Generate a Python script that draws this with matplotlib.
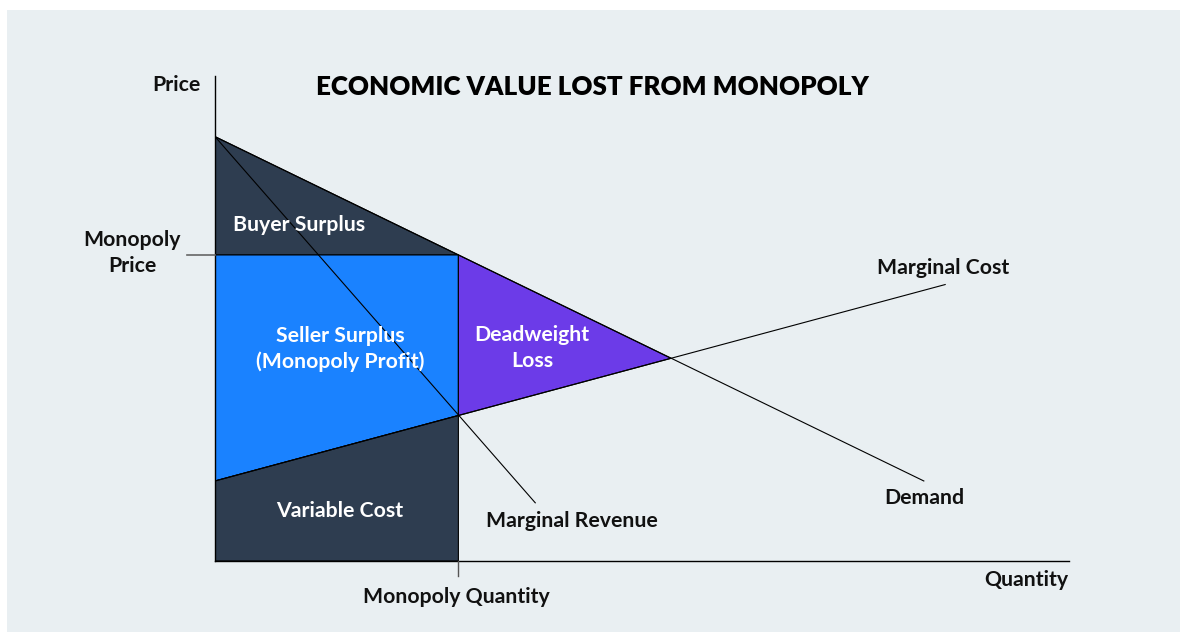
import matplotlib.pyplot as plt
from matplotlib.patches import Polygon, Rectangle

plt.rcParams['font.family'] = ['Lato', 'DejaVu Sans']

# values (quantity 0-100, price 0-100)
demand_q = [0, 83]
demand_p = [87.5, 16.5]
mr_q = [0, 37.5]
mr_p = [87.5, 12]
mc_q = [0, 85.5]
mc_p = [16.5, 57]

monopoly_q = 28.5
monopoly_p = 63.1
mc_at_qm = 30.0
eq_q = 53.4
eq_p = 41.8

panel_color = '#e9eff2'
navy = '#2e3d50'
blue = '#1a82ff'
purple = '#6c3be8'

fig = plt.figure(figsize=(11.8, 6.32), dpi=100)
fig.patch.set_facecolor('white')
fig.patches.append(Rectangle((7 / 1180, 0), 1, 1 - 10 / 632, transform=fig.transFigure,
                             facecolor=panel_color, edgecolor='none', zorder=-1))

ax = fig.add_axes([215 / 1180, 71 / 632, 854 / 1180, 485 / 632])
ax.set_facecolor('none')
ax.set_xlim(0, 100)
ax.set_ylim(0, 100)
for side in ['top', 'right']:
    ax.spines[side].set_visible(False)
for side in ['left', 'bottom']:
    ax.spines[side].set_linewidth(1.0)
    ax.spines[side].set_color('black')
ax.set_xticks([])
ax.set_yticks([])

# shaded areas
areas = [
    ([(0, demand_p[0]), (monopoly_q, monopoly_p), (0, monopoly_p)], navy),
    ([(0, monopoly_p), (monopoly_q, monopoly_p), (monopoly_q, mc_at_qm), (0, mc_p[0])], blue),
    ([(monopoly_q, monopoly_p), (eq_q, eq_p), (monopoly_q, mc_at_qm)], purple),
    ([(0, mc_p[0]), (monopoly_q, mc_at_qm), (monopoly_q, 0), (0, 0)], navy),
]
for pts, col in areas:
    ax.add_patch(Polygon(pts, closed=True, facecolor=col, edgecolor='black', linewidth=0.8, zorder=1))

# curves
ax.plot(demand_q, demand_p, color='black', lw=0.8, zorder=3)
ax.plot(mr_q, mr_p, color='black', lw=0.8, zorder=3)
ax.plot(mc_q, mc_p, color='black', lw=0.8, zorder=3)

# ticks for monopoly price and quantity
ax.plot([-3.3, 0], [monopoly_p, monopoly_p], color='#666666', lw=1.2, clip_on=False, zorder=3)
ax.plot([monopoly_q, monopoly_q], [0, -3.1], color='#555555', lw=1.0, clip_on=False, zorder=3)

fs = 15.3
lab = dict(fontsize=fs, fontweight='bold', color='#111111')
wlab = dict(fontsize=fs, fontweight='bold', color='white', ha='center', va='center',
            multialignment='center', zorder=4, linespacing=1.38)

fig.text(592 / 1180, 1 - 87 / 632, 'ECONOMIC VALUE LOST FROM MONOPOLY', ha='center', va='center',
         fontsize=18.7, fontweight='heavy', color='black')
fig.text(200 / 1180, 1 - 85 / 632, 'Price', ha='right', va='center', **lab)
fig.text(132 / 1180, 1 - 253 / 632, 'Monopoly\nPrice', ha='center', va='center',
         multialignment='center', linespacing=1.4, **lab)
fig.text(456 / 1180, 1 - 597 / 632, 'Monopoly Quantity', ha='center', va='center', **lab)
fig.text(1068 / 1180, 1 - 580 / 632, 'Quantity', ha='right', va='center', **lab)
fig.text(943 / 1180, 1 - 268 / 632, 'Marginal Cost', ha='center', va='center', **lab)
fig.text(924 / 1180, 1 - 498 / 632, 'Demand', ha='center', va='center', **lab)
fig.text(486 / 1180, 1 - 521 / 632, 'Marginal Revenue', ha='left', va='center', **lab)

fig.text(299 / 1180, 1 - 225 / 632, 'Buyer Surplus', **wlab)
fig.text(340 / 1180, 1 - 349 / 632, 'Seller Surplus\n(Monopoly Profit)', **wlab)
fig.text(532 / 1180, 1 - 348 / 632, 'Deadweight\nLoss', **wlab)
fig.text(340 / 1180, 1 - 511 / 632, 'Variable Cost', **wlab)

fig.savefig('out.png', dpi=100, facecolor=fig.get_facecolor())
